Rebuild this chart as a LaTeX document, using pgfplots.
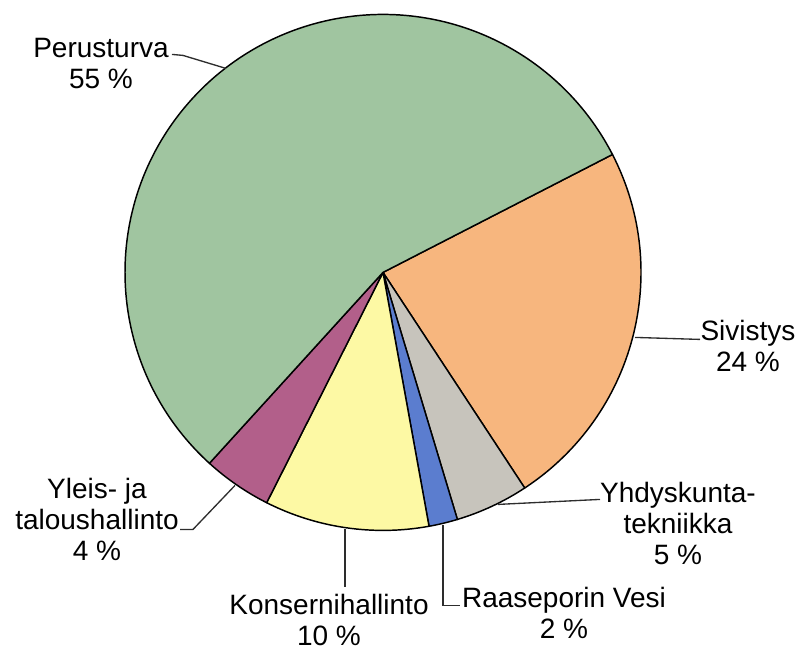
\documentclass[border=0pt]{standalone}
\usepackage{fontspec}
\setmainfont{Liberation Sans}
\usepackage{pgfplots}
\usepackage{pgfplotstable}
\pgfplotsset{compat=1.18}

% slice colours, in table row order
\definecolor{c0}{RGB}{247,182,126} % Sivistys
\definecolor{c1}{RGB}{199,196,188} % Yhdyskuntatekniikka
\definecolor{c2}{RGB}{91,125,207}  % Raaseporin Vesi
\definecolor{c3}{RGB}{253,249,164} % Konsernihallinto
\definecolor{c4}{RGB}{178,95,138}  % Yleis- ja taloushallinto
\definecolor{c5}{RGB}{160,197,160} % Perusturva
\definecolor{leader}{RGB}{45,45,45}

\tikzset{
  lbl/.style={font=\fontsize{21}{23.25}\selectfont, align=center, inner sep=0pt, text=black},
  ldr/.style={leader, line width=1pt},
}

% shares in percent, clockwise from the top right
\pgfplotstableread[col sep=comma]{
name,value
Sivistys,23.3
Yhdyskuntatekniikka,4.6
Raaseporin Vesi,1.8
Konsernihallinto,10.3
Yleis- ja taloushallinto,4.3
Perusturva,55.7
}\piedata

\begin{document}
\begin{tikzpicture}
\def\startang{27.2}
\pgfplotsforeachungrouped \i in {0,1,2,3,4,5}{%
  \pgfplotstablegetelem{\i}{value}\of\piedata
  \pgfmathsetmacro\endang{\startang-3.6*\pgfplotsretval}%
  \expandafter\xdef\csname sa\i\endcsname{\startang}%
  \expandafter\xdef\csname ea\i\endcsname{\endang}%
  \xdef\startang{\endang}%
}
\begin{axis}[
    x=0.75pt, y=0.75pt,
    xmin=0, xmax=801, ymin=0, ymax=650,
    hide axis,
    clip=false,
]
\path (axis cs:0,0) rectangle (axis cs:801,650);

\pgfplotsinvokeforeach{0,1,2,3,4,5}{
  \filldraw[fill=c#1, draw=black, line width=1.1pt, line join=round]
    (axis cs:383,380) -- ++(\csname sa#1\endcsname:193.5pt)
    arc[start angle=\csname sa#1\endcsname, end angle=\csname ea#1\endcsname, radius=193.5pt]
    -- cycle;
}

% leader lines
\draw[ldr] (axis cs:172,598) -- (axis cs:183,597) -- (axis cs:226,584);
\draw[ldr] (axis cs:635,315) -- (axis cs:700,313);
\draw[ldr] (axis cs:498,148) -- (axis cs:600,153);
\draw[ldr] (axis cs:443,127) -- (axis cs:443,47) -- (axis cs:460,47);
\draw[ldr] (axis cs:345,123) -- (axis cs:345,65);
\draw[ldr] (axis cs:235,167) -- (axis cs:193,123) -- (axis cs:180,123);

% labels
\node[lbl] at (axis cs:101,589) {Perusturva\\55 \%};
\node[lbl] at (axis cs:748,306) {Sivistys\\24 \%};
\node[lbl] at (axis cs:678,129) {Yhdyskunta-\\tekniikka\\5 \%};
\node[lbl] at (axis cs:564,39) {Raaseporin Vesi\\2 \%};
\node[lbl] at (axis cs:329,32) {Konsernihallinto\\10 \%};
\node[lbl] at (axis cs:97,133) {Yleis- ja\\taloushallinto\\4 \%};
\end{axis}
\end{tikzpicture}
\end{document}
